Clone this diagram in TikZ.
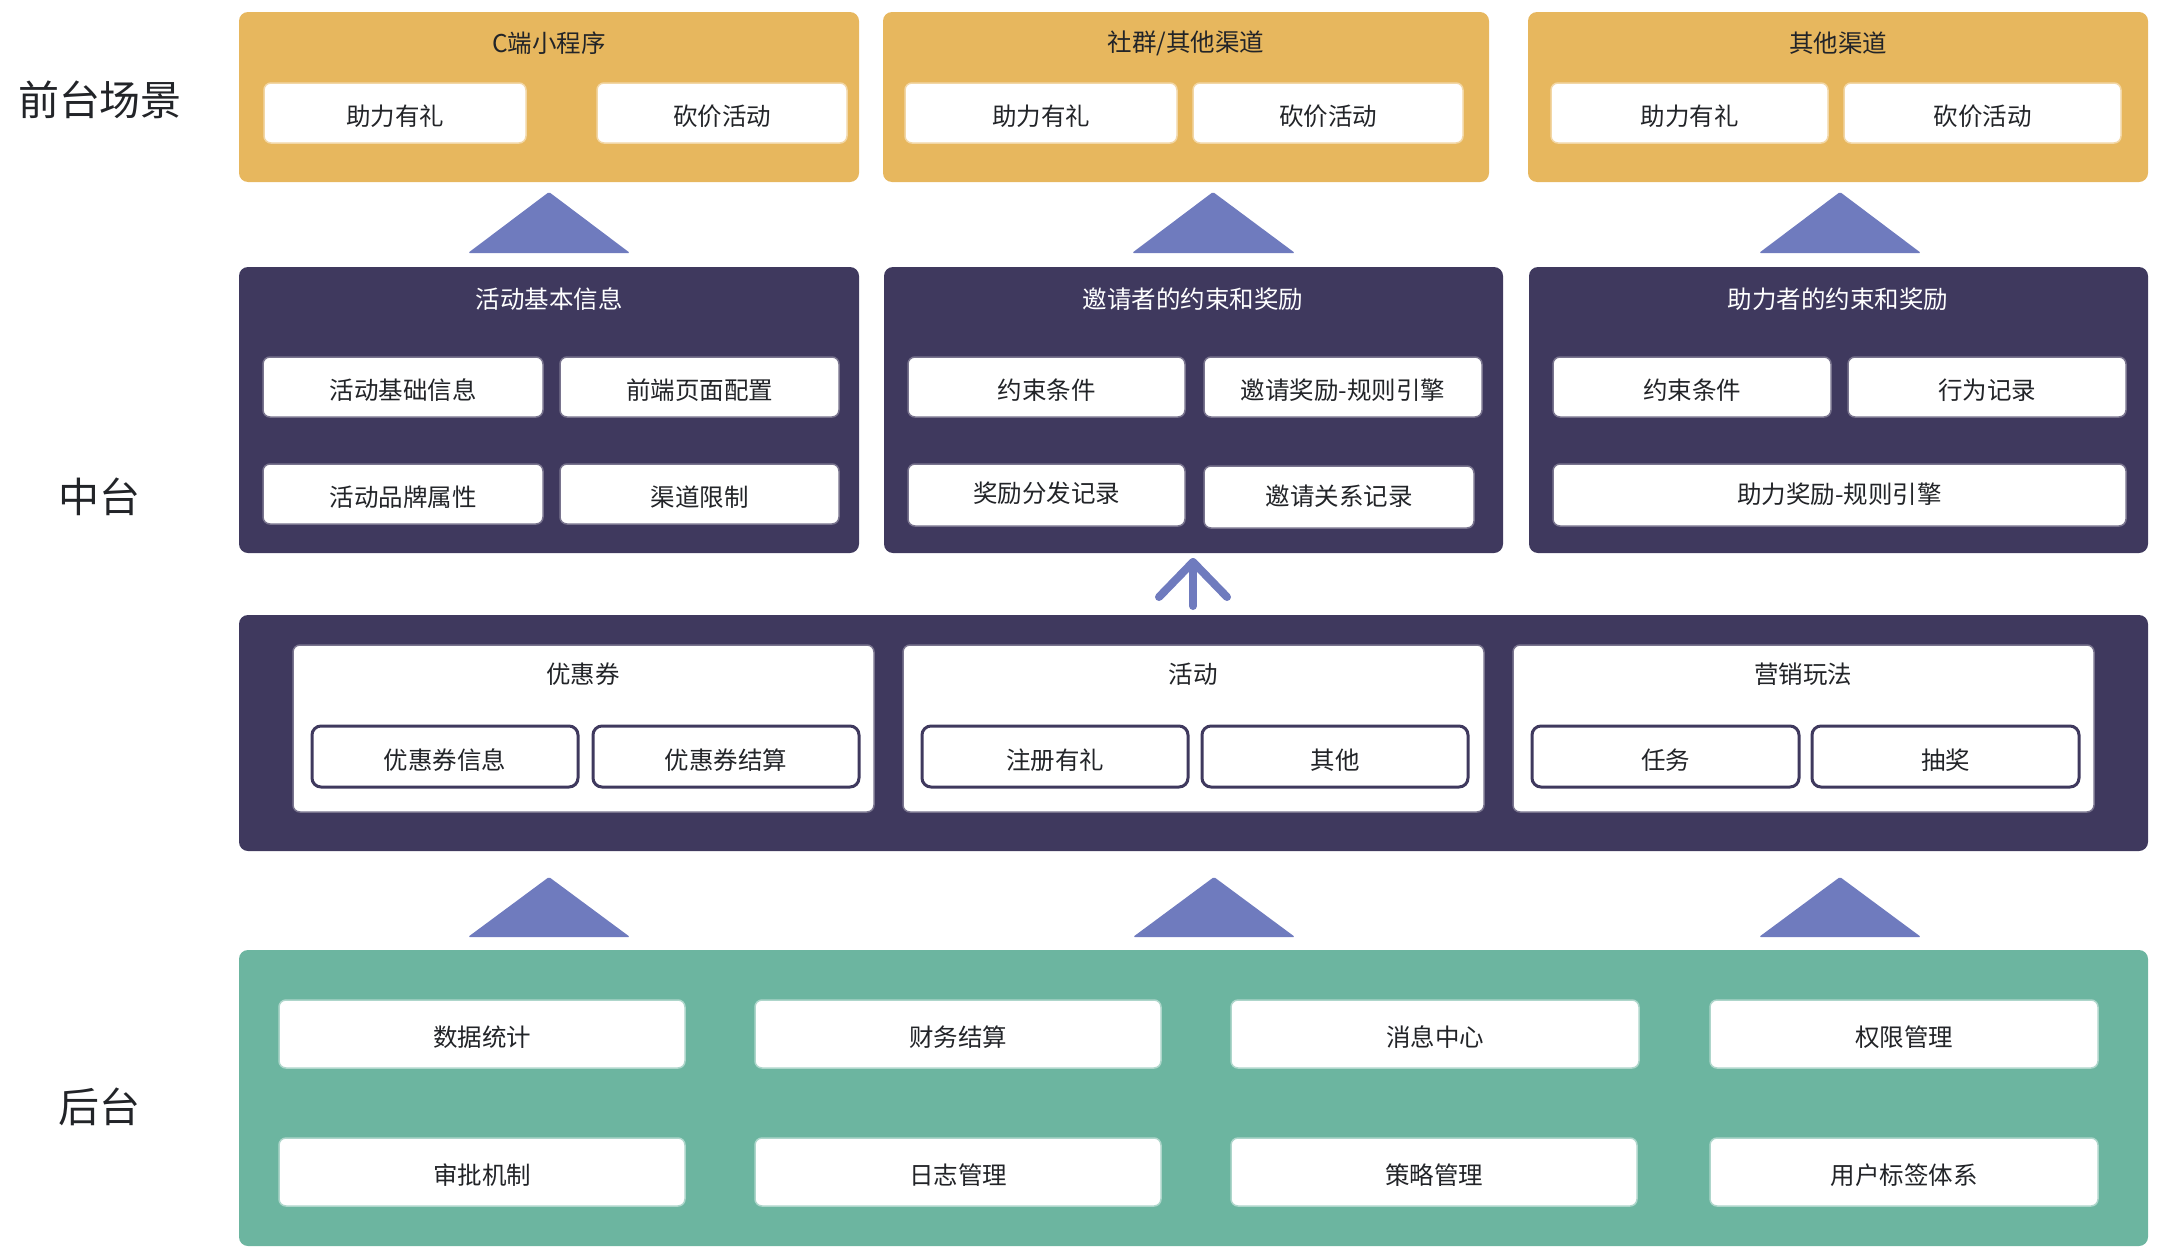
\documentclass[tikz,border=0pt]{standalone}
\usepackage{fontspec}
\setmainfont{Noto Sans CJK SC}
\definecolor{cyel}{HTML}{E7B75E}
\definecolor{cdark}{HTML}{3F395E}
\definecolor{cgreen}{HTML}{6CB5A0}
\definecolor{ctri}{HTML}{6F7BBE}
\definecolor{ctext}{HTML}{222428}
\newcommand\cellfont{\fontsize{24.5}{29}\selectfont}
\newcommand\sidefont{\fontsize{41}{48}\selectfont}
\newcommand\rbox[7]{%
  \pgfmathsetmacro\rbw{#4-#2}\pgfmathsetmacro\rbh{#5-#3}%
  \node[#1, minimum width=\rbw pt, minimum height=\rbh pt] (#6) at ({(#2+#4)/2},{(#3+#5)/2}) {#7};}
\tikzset{
  outer/.style={rounded corners=9pt, inner sep=0pt, draw=none},
  ybox/.style={outer, fill=cyel},
  dbox/.style={outer, fill=cdark},
  gbox/.style={outer, fill=cgreen},
  wcell/.style={fill=white, rounded corners=7pt, inner sep=0pt, text=ctext, font=\cellfont, line width=1.5pt, text height=25pt, text depth=0pt},
  ycell/.style={wcell, draw=cyel!55!white},
  dcell/.style={wcell, draw=cdark!70!white},
  gcell/.style={wcell, draw=cgreen!55!white},
  scell/.style={wcell, draw=cdark, line width=3pt, rounded corners=9pt},
  title/.style={font=\cellfont, text=ctext, inner sep=0pt},
  ltitle/.style={title, text=white},
  side/.style={font=\sidefont, text=ctext, inner sep=0pt},
  tri/.style={fill=ctri, rounded corners=1.5pt},
  upline/.style={draw=ctri, line width=8pt, line cap=round, line join=round}
}
\begin{document}
\begin{tikzpicture}[x=1pt, y=-1pt]
\useasboundingbox (0,0) rectangle (2164,1258);
% side labels
\node[side] (lfront) at (100,100) {前台场景};
\node[side] (lmid) at (99,497) {中台};
\node[side] (lback) at (99,1107) {后台};
% ---------- front row ----------
\rbox{ybox}{239}{12}{859}{182}{Y1}{}
\node[title] (Y1t) at (549,43) {C端小程序};
\rbox{ycell}{264}{83}{526}{143}{Y1a}{助力有礼}
\rbox{ycell}{597}{83}{847}{143}{Y1b}{砍价活动}
\rbox{ybox}{883}{12}{1489}{182}{Y2}{}
\node[title] (Y2t) at (1186,43) {社群/其他渠道};
\rbox{ycell}{905}{83}{1177}{143}{Y2a}{助力有礼}
\rbox{ycell}{1193}{83}{1463}{143}{Y2b}{砍价活动}
\rbox{ybox}{1528}{12}{2148}{182}{Y3}{}
\node[title] (Y3t) at (1838,43) {其他渠道};
\rbox{ycell}{1551}{83}{1828}{143}{Y3a}{助力有礼}
\rbox{ycell}{1844}{83}{2121}{143}{Y3b}{砍价活动}
% triangles top
\fill[tri] (468,253) -- (549,192) -- (630,253) -- cycle;
\fill[tri] (1132,253) -- (1213,192) -- (1295,253) -- cycle;
\fill[tri] (1759,253) -- (1840,192) -- (1921,253) -- cycle;
% ---------- middle row ----------
\rbox{dbox}{239}{267}{859}{553}{D1}{}
\node[ltitle] (D1t) at (549,299) {活动基本信息};
\rbox{dcell}{263}{357}{543}{417}{D1a}{活动基础信息}
\rbox{dcell}{560}{357}{839}{417}{D1b}{前端页面配置}
\rbox{dcell}{263}{464}{543}{524}{D1c}{活动品牌属性}
\rbox{dcell}{560}{464}{839}{524}{D1d}{渠道限制}
\rbox{dbox}{884}{267}{1503}{553}{D2}{}
\node[ltitle] (D2t) at (1193,299) {邀请者的约束和奖励};
\rbox{dcell}{908}{357}{1185}{417}{D2a}{约束条件}
\rbox{dcell}{1204}{357}{1482}{417}{D2b}{邀请奖励-规则引擎}
\rbox{dcell}{908}{464}{1185}{526}{D2c}{\raisebox{5pt}{奖励分发记录}}
\rbox{dcell}{1204}{466}{1474}{528}{D2d}{\raisebox{4pt}{邀请关系记录}}
\rbox{dbox}{1529}{267}{2148}{553}{D3}{}
\node[ltitle] (D3t) at (1838,299) {助力者的约束和奖励};
\rbox{dcell}{1553}{357}{1831}{417}{D3a}{约束条件}
\rbox{dcell}{1848}{357}{2126}{417}{D3b}{行为记录}
\rbox{dcell}{1553}{464}{2126}{526}{D3c}{\raisebox{4pt}{助力奖励-规则引擎}}
% ---------- capability row ----------
\rbox{dbox}{239}{615}{2148}{851}{B}{}
\rbox{dcell}{293}{645}{874}{812}{B1}{}
\node[title] (B1t) at (583,674) {优惠券};
\rbox{scell}{312}{726}{578}{787}{B1a}{优惠券信息}
\rbox{scell}{593}{726}{859}{787}{B1b}{优惠券结算}
\rbox{dcell}{903}{645}{1484}{812}{B2}{}
\node[title] (B2t) at (1193,674) {活动};
\rbox{scell}{922}{726}{1188}{787}{B2a}{注册有礼}
\rbox{scell}{1202}{726}{1468}{787}{B2b}{其他}
\rbox{dcell}{1513}{645}{2094}{812}{B3}{}
\node[title] (B3t) at (1803,674) {营销玩法};
\rbox{scell}{1532}{726}{1799}{787}{B3a}{任务}
\rbox{scell}{1812}{726}{2079}{787}{B3b}{抽奖}
% open arrow from B up to D2
\coordinate (arTail) at (1193,606);
\coordinate (arHead) at (1193,562);
\path[upline] (arTail) -- (arHead);
\path[upline] ([shift={(-34,35)}]arHead) -- (arHead) -- ([shift={(34,35)}]arHead);
% triangles bottom
\fill[tri] (468,937) -- (549,877) -- (630,937) -- cycle;
\fill[tri] (1133,937) -- (1214,877) -- (1295,937) -- cycle;
\fill[tri] (1759,937) -- (1840,877) -- (1921,937) -- cycle;
% ---------- back row ----------
\rbox{gbox}{239}{950}{2148}{1246}{G}{}
\rbox{gcell}{279}{1000}{685}{1068}{G1}{数据统计}
\rbox{gcell}{755}{1000}{1161}{1068}{G2}{财务结算}
\rbox{gcell}{1231}{1000}{1639}{1068}{G3}{消息中心}
\rbox{gcell}{1710}{1000}{2098}{1068}{G4}{权限管理}
\rbox{gcell}{279}{1138}{685}{1206}{G5}{审批机制}
\rbox{gcell}{755}{1138}{1161}{1206}{G6}{日志管理}
\rbox{gcell}{1231}{1138}{1637}{1206}{G7}{策略管理}
\rbox{gcell}{1710}{1138}{2098}{1206}{G8}{用户标签体系}
\end{tikzpicture}
\end{document}
